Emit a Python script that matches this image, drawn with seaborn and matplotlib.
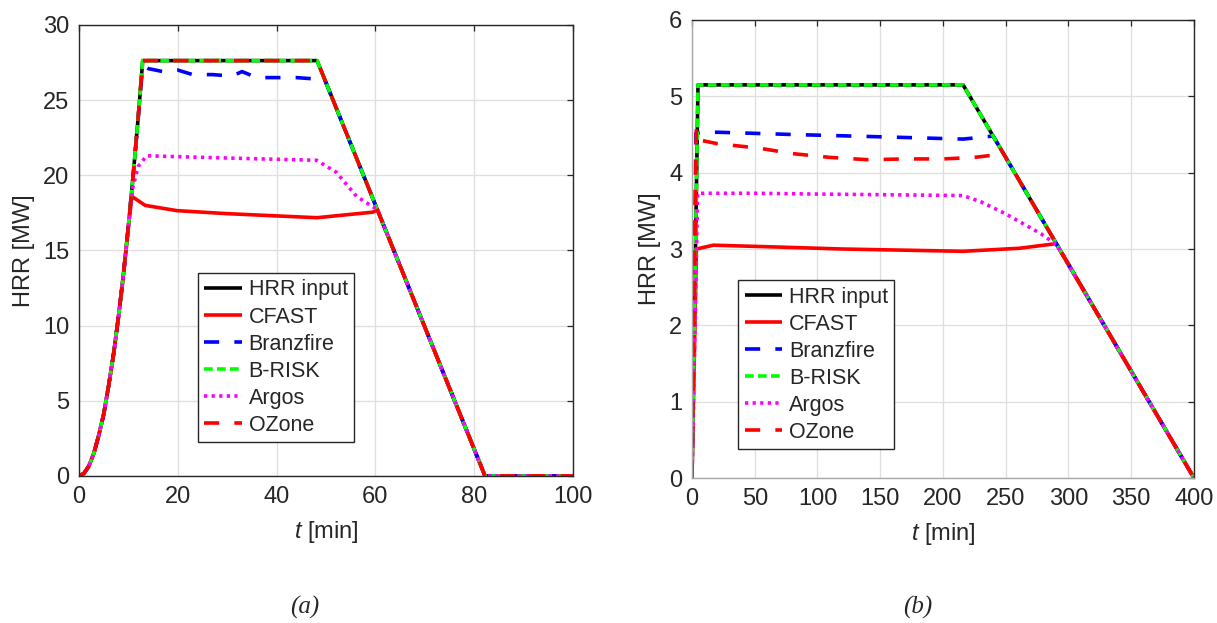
import numpy as np
import pandas as pd
import matplotlib
matplotlib.use("Agg")
import matplotlib.pyplot as plt
import seaborn as sns

# ---------------- data (a) ----------------
a_input_t = [0, 1, 2, 3, 4, 5, 6, 7, 8, 9, 10, 11, 12, 12.9, 48.2, 82.2, 100]
a_input_v = [0, 0.17, 0.66, 1.5, 2.7, 4.1, 6.0, 8.1, 10.6, 13.4, 16.6, 20.1, 23.9, 27.63, 27.63, 0, 0]

a_cfast_t = [0, 1, 2, 3, 4, 5, 6, 7, 8, 9, 10, 10.7, 13.4, 19.8, 30, 40, 48.2, 59.5, 60.4, 82.2, 100]
a_cfast_v = [0, 0.17, 0.66, 1.5, 2.7, 4.1, 6.0, 8.1, 10.6, 13.4, 16.6, 18.6, 18.0, 17.65, 17.45, 17.3, 17.18, 17.55, 17.7, 0, 0]

a_branz_t = [0, 1, 2, 3, 4, 5, 6, 7, 8, 9, 10, 11, 12, 12.9, 14, 17, 20, 23, 27, 31, 33, 36, 40, 44, 48.2, 49.7, 82.2, 100]
a_branz_v = [0, 0.17, 0.66, 1.5, 2.7, 4.1, 6.0, 8.1, 10.6, 13.4, 16.6, 20.1, 23.9, 27.3, 27.1, 26.9, 27.0, 26.7, 26.7, 26.6, 26.9, 26.5, 26.5, 26.5, 26.4, 26.4, 0, 0]

a_brisk_t = [0, 1, 2, 3, 4, 5, 6, 7, 8, 9, 10, 11, 12, 12.9, 48.2, 82.2, 100]
a_brisk_v = [0, 0.17, 0.66, 1.5, 2.7, 4.1, 6.0, 8.1, 10.6, 13.4, 16.6, 20.1, 23.9, 27.63, 27.63, 0, 0]

a_argos_t = [0, 1, 2, 3, 4, 5, 6, 7, 8, 9, 10, 10.9, 12, 13.7, 30, 48.1, 52.1, 56.2, 59.5, 60.3, 82.2, 100]
a_argos_v = [0, 0.17, 0.66, 1.5, 2.7, 4.1, 6.0, 8.1, 10.6, 13.4, 16.6, 19.2, 20.6, 21.3, 21.15, 21.0, 20.2, 18.6, 17.9, 17.8, 0, 0]

a_ozone_t = [0, 1, 2, 3, 4, 5, 6, 7, 8, 9, 10, 11, 12, 12.9, 48.2, 82.2, 100]
a_ozone_v = [0, 0.17, 0.66, 1.5, 2.7, 4.1, 6.0, 8.1, 10.6, 13.4, 16.6, 20.1, 23.9, 27.63, 27.63, 0, 0]

# ---------------- data (b) ----------------
b_input_t = [0, 4.8, 216, 400]
b_input_v = [0, 5.15, 5.15, 0]

b_cfast_t = [0, 3.5, 17, 60, 120, 216, 261, 290, 400]
b_cfast_v = [0, 3.0, 3.05, 3.03, 3.0, 2.97, 3.01, 3.07, 0]

b_branz_t = [0, 3.2, 20, 80, 150, 216, 240, 400]
b_branz_v = [0, 4.52, 4.53, 4.5, 4.47, 4.44, 4.48, 0]

b_brisk_t = [0, 4.8, 216, 400]
b_brisk_v = [0, 5.15, 5.15, 0]

b_argos_t = [0, 4.5, 50, 100, 160, 216, 230, 250, 263, 278, 291, 400]
b_argos_v = [0, 3.73, 3.73, 3.72, 3.71, 3.70, 3.62, 3.46, 3.34, 3.2, 3.05, 0]

b_ozone_t = [0, 3.5, 5.5, 20, 54, 80, 110, 140, 170, 200, 225, 240, 245, 400]
b_ozone_v = [0, 4.57, 4.43, 4.38, 4.32, 4.25, 4.2, 4.17, 4.18, 4.18, 4.2, 4.23, 4.34, 0]

names = ["HRR input", "CFAST", "Branzfire", "B-RISK", "Argos", "OZone"]
colors = ["black", "#ff0000", "#0000ff", "#00ff00", "#ff00ff", "#ff0000"]
styles = ["-", "-", (0, (4.2, 4.2)), (0, (2.4, 1.2)), (0, (0.9, 1.2)), (0, (4.2, 4.2))]

series_a = [(a_input_t, a_input_v), (a_cfast_t, a_cfast_v), (a_branz_t, a_branz_v),
            (a_brisk_t, a_brisk_v), (a_argos_t, a_argos_v), (a_ozone_t, a_ozone_v)]
series_b = [(b_input_t, b_input_v), (b_cfast_t, b_cfast_v), (b_branz_t, b_branz_v),
            (b_brisk_t, b_brisk_v), (b_argos_t, b_argos_v), (b_ozone_t, b_ozone_v)]

sns.set_style("white")
plt.rcParams['font.family'] = ['Liberation Sans', 'DejaVu Sans']
plt.rcParams['mathtext.fontset'] = 'custom'
plt.rcParams['mathtext.it'] = 'Liberation Sans:italic'
plt.rcParams['mathtext.rm'] = 'Liberation Sans'

fig = plt.figure(figsize=(12.17, 6.23), dpi=100)
axA = fig.add_axes([0.0649, 0.2360, 0.4059, 0.7239])
axB = fig.add_axes([0.5686, 0.2327, 0.4125, 0.7352])

LW = 2.6


def draw(ax, series, xlim, ylim, xticks, yticks, legpos, spine_gray):
    for (t, v), n, c, s in zip(series, names, colors, styles):
        df = pd.DataFrame({"t": t, "v": v})
        sns.lineplot(data=df, x="t", y="v", ax=ax, color=c, linewidth=LW,
                     linestyle=s, sort=False, label=n, legend=False,
                     dash_capstyle="butt", solid_capstyle="butt")
    ax.set_xlim(*xlim)
    ax.set_ylim(*ylim)
    ax.set_xticks(xticks)
    ax.set_yticks(yticks)
    ax.grid(True, color="#dedede", linewidth=0.9)
    ax.set_axisbelow(True)
    ax.tick_params(direction="in", length=4, width=0.9, top=True, right=True,
                   labelsize=17, pad=7, colors="#262626")
    for sp in ax.spines.values():
        sp.set_color("#262626")
        sp.set_linewidth(1.0)
    if spine_gray:
        ax.spines["bottom"].set_color("#a8a8a8")
        ax.spines["left"].set_color("#a8a8a8")
    ax.set_xlabel("$t$ [min]", fontsize=17, color="#262626", labelpad=8)
    ax.set_ylabel("HRR [MW]", fontsize=17, color="#262626", labelpad=6)
    leg = ax.legend(loc="upper left", bbox_to_anchor=legpos, fontsize=15.5,
                    frameon=True, fancybox=False, edgecolor="#262626",
                    handlelength=1.75, handletextpad=0.3, labelspacing=0.28,
                    borderpad=0.3, borderaxespad=0, framealpha=1)
    leg.get_frame().set_linewidth(1.0)


draw(axA, series_a, (0, 100), (0, 30), [0, 20, 40, 60, 80, 100],
     [0, 5, 10, 15, 20, 25, 30], (0.241, 0.45), False)
draw(axB, series_b, (0, 400), (0, 6), [0, 50, 100, 150, 200, 250, 300, 350, 400],
     [0, 1, 2, 3, 4, 5, 6], (0.092, 0.432), True)

fig.text(305 / 1217, 1 - 607 / 623, "(a)", family="Liberation Serif", style="italic",
         fontsize=18, ha="center", va="center")
fig.text(918 / 1217, 1 - 607 / 623, "(b)", family="Liberation Serif", style="italic",
         fontsize=18, ha="center", va="center")

fig.savefig("out.png", dpi=100)
